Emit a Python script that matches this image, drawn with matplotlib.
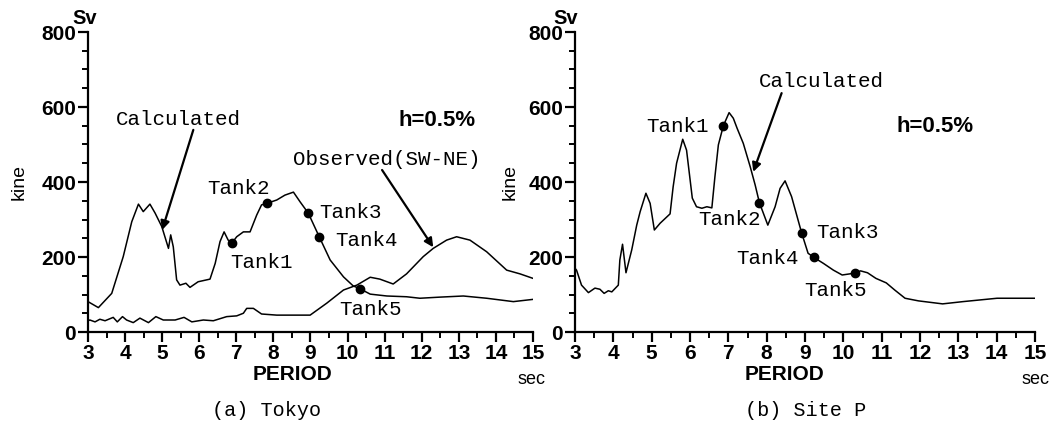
import matplotlib
matplotlib.use("Agg")
import matplotlib.pyplot as plt
from matplotlib.ticker import MultipleLocator

# ---------------- data: (a) Tokyo ----------------
calc_a_period = [3.0, 3.28, 3.64, 3.95, 4.18, 4.36, 4.49, 4.67, 4.81, 4.99, 5.17, 5.23, 5.30,
                 5.39, 5.48, 5.64, 5.75, 5.97, 6.29, 6.43, 6.56, 6.67, 6.78, 6.88, 7.01, 7.19,
                 7.37, 7.55, 7.68, 7.82, 8.09, 8.31, 8.54, 8.72, 8.94, 9.24, 9.53, 9.89, 10.15,
                 10.34, 10.61, 11.06, 11.59, 11.95, 12.49, 13.12, 13.75, 14.47, 15.0]
calc_a_value = [81, 65, 103, 201, 294, 341, 321, 341, 317, 281, 223, 259, 227,
                139, 125, 130, 119, 134, 141, 183, 241, 267, 245, 237, 254, 267,
                267, 312, 339, 343, 352, 365, 373, 347, 317, 253, 192, 147, 123,
                115, 101, 96, 94, 90, 93, 96, 90, 81, 87]

obs_a_period = [3.0, 3.05, 3.19, 3.32, 3.46, 3.68, 3.79, 3.93, 4.04, 4.22, 4.40, 4.63, 4.83,
                5.03, 5.35, 5.59, 5.80, 6.11, 6.38, 6.74, 7.01, 7.19, 7.28, 7.46, 7.68, 8.09,
                8.54, 8.99, 9.44, 9.89, 10.25, 10.61, 10.87, 11.23, 11.59, 12.04, 12.31, 12.67,
                12.94, 13.30, 13.75, 14.29, 14.65, 15.0]
obs_a_value = [30, 32, 27, 34, 30, 39, 27, 41, 32, 25, 37, 25, 41,
               32, 32, 39, 27, 32, 30, 41, 43, 50, 63, 63, 48, 45,
               45, 45, 77, 112, 125, 146, 141, 128, 155, 201, 223, 245,
               254, 245, 214, 165, 155, 143]

tank_a_period = [6.88, 7.82, 8.94, 9.24, 10.34]
tank_a_value = [237, 343, 317, 253, 115]

# ---------------- data: (b) Site P ----------------
calc_b_period = [3.0, 3.04, 3.17, 3.35, 3.52, 3.65, 3.76, 3.87, 3.96, 4.13, 4.17, 4.24, 4.33,
                 4.48, 4.61, 4.70, 4.85, 4.96, 5.07, 5.22, 5.48, 5.56, 5.65, 5.81, 5.91, 6.06,
                 6.17, 6.31, 6.44, 6.57, 6.65, 6.74, 6.87, 7.02, 7.13, 7.23, 7.39, 7.57, 7.70,
                 7.81, 8.03, 8.22, 8.35, 8.48, 8.65, 8.91, 9.08, 9.23, 9.48, 9.74, 9.97, 10.30,
                 10.45, 10.63, 10.85, 11.12, 11.34, 11.61, 11.96, 12.59, 13.12, 14.01, 15.0]
calc_b_value = [170, 165, 125, 105, 117, 114, 103, 110, 107, 125, 192, 234, 158,
                219, 285, 321, 370, 343, 272, 290, 315, 387, 450, 514, 485, 357,
                334, 330, 334, 331, 414, 499, 550, 585, 570, 543, 503, 441, 392,
                345, 285, 334, 383, 403, 361, 265, 210, 199, 183, 165, 152, 157,
                163, 158, 143, 131, 112, 90, 83, 75, 81, 90, 90]

tank_b_period = [6.87, 7.81, 8.91, 9.23, 10.30]
tank_b_value = [550, 345, 265, 199, 157]

tank_names = ["Tank1", "Tank2", "Tank3", "Tank4", "Tank5"]
x_ticks = list(range(3, 16))
y_ticks = [0, 200, 400, 600, 800]

W, H = 1053, 423
fig = plt.figure(figsize=(W / 100, H / 100), dpi=100)

MONO = "Liberation Mono"
SANS = "Liberation Sans"


def px(x, y):
    return x / W, 1 - y / H


def make_axes(left_px, right_px):
    top_px, bot_px = 32, 332
    ax = fig.add_axes([left_px / W, 1 - bot_px / H, (right_px - left_px) / W, (bot_px - top_px) / H])
    ax.set_xlim(3, 15)
    ax.set_ylim(0, 800)
    for s in ("top", "right"):
        ax.spines[s].set_visible(False)
    for s in ("left", "bottom"):
        ax.spines[s].set_linewidth(1.6)
    ax.set_xticks(x_ticks)
    ax.set_yticks(y_ticks)
    ax.xaxis.set_minor_locator(MultipleLocator(0.5))
    ax.yaxis.set_minor_locator(MultipleLocator(50))
    ax.tick_params(which="major", direction="out", length=7, width=1.6, pad=1.5)
    ax.tick_params(which="minor", direction="out", length=4, width=1.4)
    for lab in ax.get_xticklabels() + ax.get_yticklabels():
        lab.set_fontfamily(SANS)
        lab.set_fontweight("bold")
        lab.set_fontsize(15)
    ax.patch.set_alpha(0)
    return ax


def arrow(ax, tip, tail):
    ax.annotate("", xy=tip, xytext=tail,
                arrowprops=dict(arrowstyle="-|>", lw=1.6, color="black",
                                mutation_scale=13, shrinkA=0, shrinkB=0))


def txt(ax, x, y, s, size=15, family=MONO, weight="normal"):
    ax.text(x, y, s, ha="center", va="center", fontsize=size,
            family=family, fontweight=weight)


# ---- panel (a)
ax1 = make_axes(88, 533)
ax1.plot(calc_a_period, calc_a_value, color="black", lw=1.1)
ax1.plot(obs_a_period, obs_a_value, color="black", lw=1.1)
ax1.plot(tank_a_period, tank_a_value, "o", color="black", ms=6)
txt(ax1, 5.45, 568, "Calculated")
arrow(ax1, (5.0, 272), (5.84, 539))
txt(ax1, 12.41, 565, "h=0.5%", size=16, family=SANS, weight="bold")
txt(ax1, 11.05, 461, "Observed(SW-NE)")
arrow(ax1, (12.31, 226), (10.93, 432))
tank_a_text = [(7.69, 185), (7.07, 384), (10.09, 319), (10.51, 243), (10.63, 61)]
for name, (tx, ty) in zip(tank_names, tank_a_text):
    txt(ax1, tx, ty, name)

# ---- panel (b)
ax2 = make_axes(575, 1035)
ax2.plot(calc_b_period, calc_b_value, color="black", lw=1.1)
ax2.plot(tank_b_period, tank_b_value, "o", color="black", ms=6)
txt(ax2, 9.44, 667, "Calculated")
arrow(ax2, (7.65, 427), (8.39, 637))
txt(ax2, 12.39, 549, "h=0.5%", size=16, family=SANS, weight="bold")
tank_b_text = [(5.68, 549), (7.02, 301), (10.10, 266), (8.02, 197), (9.80, 111)]
for name, (tx, ty) in zip(tank_names, tank_b_text):
    txt(ax2, tx, ty, name)

# ---- figure-level labels
for (sv_x, kine_x, per_x, sec_x, cap_x, cap) in [
        (85, 19, 292, 531, 267, "(a) Tokyo"),
        (566, 510, 784, 1036, 806, "(b) Site P")]:
    fig.text(*px(sv_x, 19), "Sv", ha="center", va="center", fontsize=14.5,
             family=SANS, fontweight="bold")
    fig.text(*px(kine_x, 182), "kine", ha="center", va="center", fontsize=14,
             family=SANS, rotation=90)
    fig.text(*px(per_x, 375), "PERIOD", ha="center", va="center", fontsize=15,
             family=SANS, fontweight="bold")
    fig.text(*px(sec_x, 379), "sec", ha="center", va="center", fontsize=13,
             family=SANS)
    fig.text(*px(cap_x, 410), cap, ha="center", va="center", fontsize=14.5,
             family=MONO)

fig.savefig("out.png", dpi=100)
